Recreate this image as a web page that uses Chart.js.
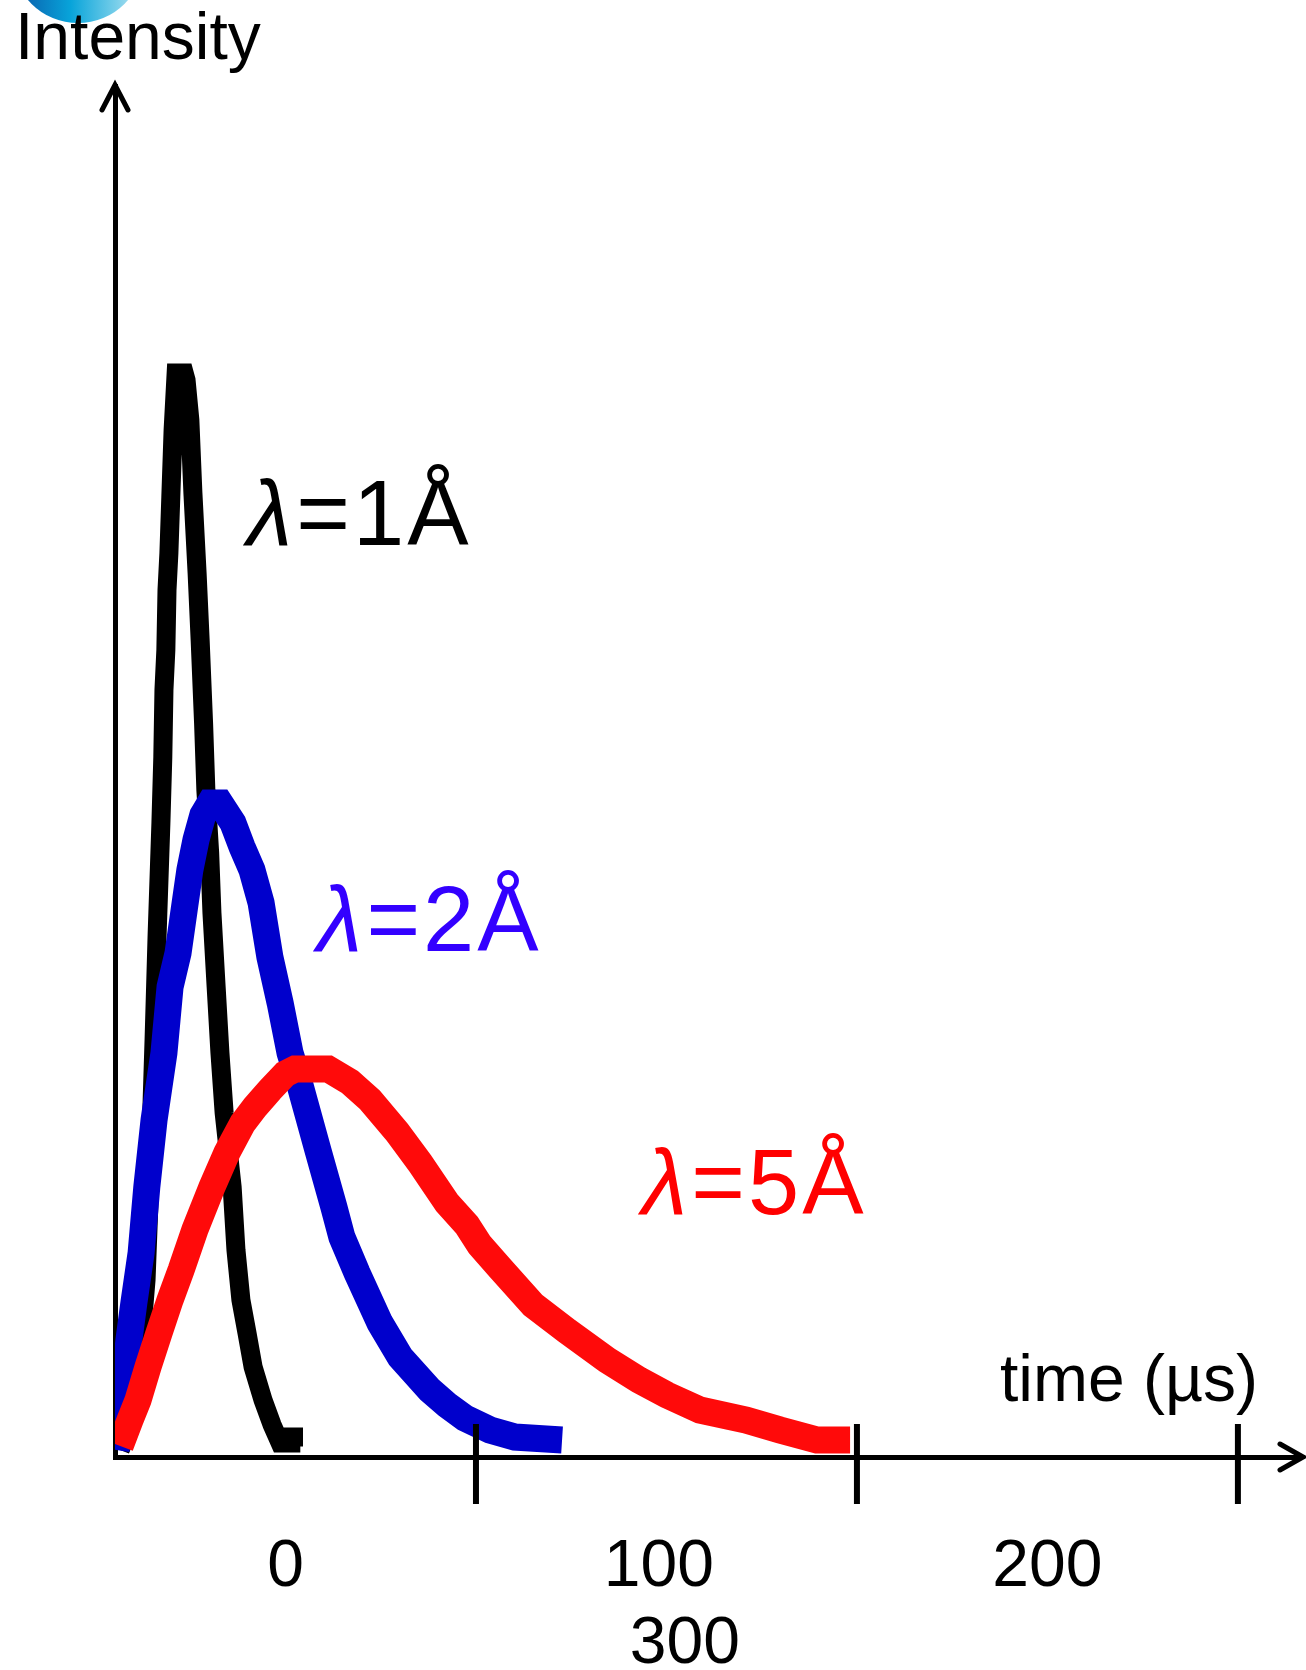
<!DOCTYPE html>
<html>
<head>
<meta charset="utf-8">
<title>Pulse shapes vs wavelength</title>
<script src="https://cdn.jsdelivr.net/npm/chart.js@4.4.1/dist/chart.umd.min.js"></script>
<style>
  html, body { margin: 0; padding: 0; background: #ffffff; }
  #wrap { width: 1306px; height: 1670px; position: relative; }
  canvas { display: block; }
</style>
</head>
<body>
<div id="wrap"><canvas id="pulse" width="1306" height="1670"></canvas></div>
<script>
// Time-of-flight pulse shapes (time in µs, intensity in arbitrary units)
const seriesNames = ['λ=1Å', 'λ=2Å', 'λ=5Å'];

const time1 = [6.6, 8.7, 10.8, 12.3, 13.4, 14.2, 15.0, 15.5, 16.3, 17.3, 17.8, 18.1, 18.6, 18.9, 19.4, 19.9, 20.5, 21.3, 23.4,
               23.9, 24.9, 25.7, 26.8, 27.6, 28.5, 29.1, 30.1, 30.7, 31.8, 32.8, 33.9, 36.0, 37.0, 38.3, 39.9, 41.5, 44.1, 46.5, 48.6, 51.4, 51.4, 54.6];
const intensity1 = [0.7, 2.7, 6.7, 12.7, 17.7, 25.7, 35.7, 41.7, 52.2, 63.4, 70.0, 76.7, 80.7, 86.7, 90.4, 96.0, 102.7, 108.4, 108.4,
                    107.7, 103.7, 96.4, 88.4, 81.7, 73.4, 66.7, 60.4, 54.4, 47.0, 40.4, 34.4, 27.0, 20.7, 15.7, 12.4, 9.0, 5.7, 3.2, 1.4, 1.4, 2.0, 2.0];

const time2 = [5.5, 6.3, 7.3, 8.9, 10.2, 12.1, 13.6, 15.5, 18.1, 18.9, 19.7, 21.8, 23.4, 24.9, 26.5, 28.3, 30.2, 32.8,
               36.2, 38.6, 41.2, 43.6, 45.9, 48.6, 51.2, 53.8, 55.1, 58.5, 62.7, 64.8, 68.8, 74.8, 80.1, 87.9, 92.4, 97.1, 103.7, 110.2, 122.6];
const intensity2 = [0.7, 2.7, 5.7, 11.7, 15.4, 20.4, 27.0, 33.7, 40.4, 43.7, 47.0, 50.4, 54.7, 58.7, 61.7, 64.2, 65.4, 65.4,
                    63.4, 61.0, 58.7, 55.4, 50.0, 45.4, 40.4, 37.2, 35.4, 30.7, 25.0, 22.0, 18.4, 13.4, 10.0, 6.7, 5.2, 3.9, 2.7, 2.0, 1.7];

const time5 = [6.6, 9.2, 11.3, 13.9, 16.8, 19.7, 22.6, 26.2, 30.7, 34.6, 38.8, 42.0, 45.9, 49.9, 52.5, 61.2,
               66.9, 72.2, 79.3, 85.3, 92.4, 97.6, 101.0, 106.3, 115.0, 123.9, 134.4, 142.8, 150.1, 158.8, 170.9, 179.8, 189.5, 198.2];
const intensity5 = [1.1, 3.7, 5.7, 9.0, 12.4, 15.7, 18.7, 22.7, 27.0, 30.4, 33.4, 35.0, 36.7, 38.3, 38.8, 38.8,
                    37.5, 35.7, 32.5, 29.4, 25.4, 23.2, 21.2, 18.9, 15.2, 12.6, 9.7, 7.7, 6.2, 4.7, 3.7, 2.7, 1.7, 1.7];

const tickValues = [100, 200, 300];
const tickLabels = ['0', '100', '200', '300'];
const axisTitles = { x: 'time (µs)', y: 'Intensity' };

const zip = (xs, ys) => xs.map((x, i) => ({ x, y: ys[i] }));

const FONT = '"Liberation Sans", Arial, Helvetica, sans-serif';

// Hand-drawn style axes, tick crosses, inline curve labels and the corner emblem
const slideDecor = {
  id: 'slideDecor',
  beforeDraw(chart) {
    const ctx = chart.ctx;
    ctx.save();
    ctx.fillStyle = '#ffffff';
    ctx.fillRect(0, 0, chart.width, chart.height);
    // partially visible round emblem in the top-left corner
    const g = ctx.createLinearGradient(14, 0, 140, 0);
    g.addColorStop(0, '#0a58a8');
    g.addColorStop(0.45, '#08a4da');
    g.addColorStop(0.8, '#74cde9');
    g.addColorStop(1, '#b8e4f2');
    ctx.fillStyle = g;
    ctx.beginPath();
    ctx.arc(78, -43, 66, 0, Math.PI * 2);
    ctx.fill();
    ctx.restore();
  },
  afterDraw(chart, args, opts) {
    const ctx = chart.ctx;
    const xs = chart.scales.x, ys = chart.scales.y;
    const a = chart.chartArea;
    ctx.save();
    ctx.strokeStyle = '#000';
    ctx.lineWidth = 5;
    ctx.lineCap = 'round';
    ctx.lineJoin = 'miter';

    // arrow heads
    ctx.beginPath();
    ctx.moveTo(a.right - 20, a.bottom - 13);
    ctx.lineTo(a.right + 3, a.bottom);
    ctx.lineTo(a.right - 20, a.bottom + 13);
    ctx.stroke();
    ctx.beginPath();
    ctx.moveTo(a.left - 13, a.top + 24);
    ctx.lineTo(a.left, a.top - 1);
    ctx.lineTo(a.left + 13, a.top + 24);
    ctx.stroke();

    // tick crosses on the time axis
    ctx.lineCap = 'butt';
    ctx.lineWidth = 6;
    tickValues.forEach(v => {
      const px = xs.getPixelForValue(v);
      ctx.beginPath();
      ctx.moveTo(px, a.bottom - 33);
      ctx.lineTo(px, a.bottom + 47);
      ctx.stroke();
    });

    // tick labels: first row between the ticks, last label wrapped below, centred on the row
    ctx.fillStyle = '#000';
    ctx.font = '66px ' + FONT;
    ctx.textAlign = 'center';
    ctx.textBaseline = 'alphabetic';
    const rowY = a.bottom + 129;
    let left = null, right = null;
    opts.tickLabelAt.forEach((v, i) => {
      const cx = xs.getPixelForValue(v);
      const w = ctx.measureText(tickLabels[i]).width;
      ctx.fillText(tickLabels[i], cx, rowY);
      if (left === null) left = cx - w / 2;
      right = cx + w / 2;
    });
    ctx.fillText(tickLabels[3], (left + right) / 2, rowY + 77);

    // axis titles
    ctx.textAlign = 'left';
    ctx.fillText(axisTitles.y, 15, 59);
    ctx.fillText(axisTitles.x, 1000, 1401);

    // curve labels with a slanted lambda
    opts.labels.forEach((lab, i) => {
      const px = xs.getPixelForValue(lab.x);
      const py = ys.getPixelForValue(lab.y);
      const text = seriesNames[i];
      ctx.fillStyle = lab.color;
      ctx.font = 'italic 92px ' + FONT;
      ctx.fillText(text[0], px, py);
      const w = ctx.measureText(text[0]).width;
      ctx.font = '92px ' + FONT;
      if ('letterSpacing' in ctx) ctx.letterSpacing = '3px';
      ctx.fillText(text.slice(1), px + w + 4, py);
      if ('letterSpacing' in ctx) ctx.letterSpacing = '0px';
    });
    ctx.restore();
  }
};

const zeroWidth = s => { s.width = 0; };
const zeroHeight = s => { s.height = 0; };

new Chart(document.getElementById('pulse'), {
  type: 'line',
  data: {
    datasets: [
      { label: seriesNames[0], data: zip(time1, intensity1), borderColor: '#000000', borderWidth: 19, order: 2 },
      { label: seriesNames[1], data: zip(time2, intensity2), borderColor: '#0000cc', borderWidth: 27, order: 1 },
      { label: seriesNames[2], data: zip(time5, intensity5), borderColor: '#ff0a0a', borderWidth: 27, order: 0 }
    ]
  },
  options: {
    responsive: false,
    animation: false,
    events: [],
    layout: { padding: { left: 115, right: 6, top: 86, bottom: 213 } },
    elements: {
      point: { radius: 0 },
      line: { tension: 0, borderCapStyle: 'butt', borderJoinStyle: 'miter', fill: false }
    },
    scales: {
      x: {
        type: 'linear', min: 5.25, max: 316.3,
        ticks: { display: false },
        grid: { display: false, drawTicks: false },
        border: { display: true, color: '#000', width: 5 },
        afterFit: zeroHeight
      },
      y: {
        type: 'linear', min: 0, max: 137.1,
        ticks: { display: false },
        grid: { display: false, drawTicks: false },
        border: { display: true, color: '#000', width: 5 },
        afterFit: zeroWidth
      }
    },
    plugins: {
      legend: { display: false },
      tooltip: { enabled: false },
      slideDecor: {
        tickLabelAt: [50, 148, 250],
        labels: [
          { x: 39.9, y: 91.2, color: '#000000' },
          { x: 58.3, y: 50.6, color: '#3300ff' },
          { x: 143.6, y: 24.3, color: '#ff0000' }
        ]
      }
    }
  },
  plugins: [slideDecor]
});
</script>
</body>
</html>
